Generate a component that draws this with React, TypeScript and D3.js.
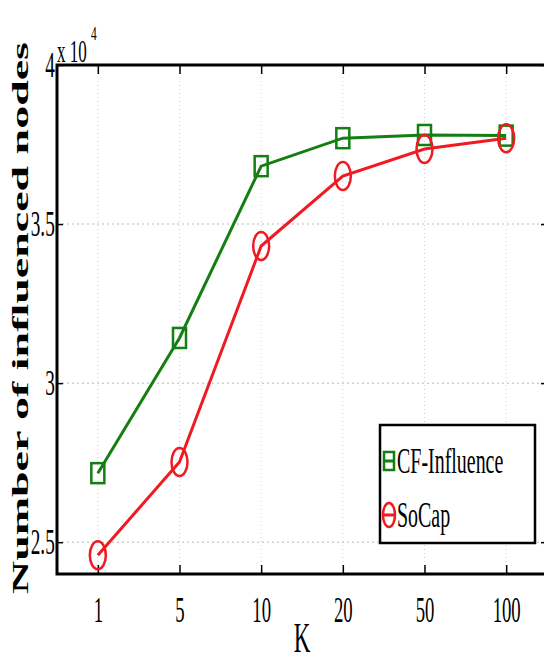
import React, { useEffect, useRef } from "react";
import * as d3 from "d3";

// values (units of 10^4)
const kLabels = ["1", "5", "10", "20", "50", "100"];
const cfInfluence = [2.717, 3.142, 3.682, 3.77, 3.78, 3.778];
const soCap = [2.459, 2.752, 3.431, 3.651, 3.736, 3.77];
const yTicks = [2.5, 3, 3.5, 4];
const seriesNames = ["CF-Influence", "SoCap"];

const W = 544,
  H = 661;
const FONT = "'Liberation Serif', 'Times New Roman', serif";

export default function App() {
  const svgRef = useRef<SVGSVGElement>(null);

  useEffect(() => {
    const svg = d3.select(svgRef.current);
    svg.selectAll("*").remove();

    const left = 57,
      right = 547,
      top = 65,
      bottom = 574;

    const x = d3.scalePoint<string>().domain(kLabels).range([left, right]).padding(0.5);
    const y = d3.scaleLinear().domain([2.4, 4]).range([bottom, top]);

    // grid
    const grid = svg.append("g");
    kLabels.forEach((k) => {
      grid
        .append("line")
        .attr("x1", x(k)!)
        .attr("x2", x(k)!)
        .attr("y1", top)
        .attr("y2", bottom)
        .attr("stroke", "#cfcfcf")
        .attr("stroke-width", 1)
        .attr("stroke-dasharray", "1,3");
    });
    yTicks.forEach((t) => {
      grid
        .append("line")
        .attr("x1", left)
        .attr("x2", right)
        .attr("y1", y(t))
        .attr("y2", y(t))
        .attr("stroke", "#cfcfcf")
        .attr("stroke-width", 1.5)
        .attr("stroke-dasharray", "2,3");
    });

    // axes
    const xAxis = svg
      .append("g")
      .attr("transform", `translate(0,${bottom})`)
      .call(d3.axisBottom(x).tickSize(-9).tickSizeOuter(0));
    xAxis.select(".domain").remove();
    xAxis.selectAll("line").attr("stroke", "#000").attr("stroke-width", 1.5);
    xAxis
      .selectAll("text")
      .attr("fill", "#000")
      .attr("font-family", FONT)
      .attr("font-size", 36)
      .attr("dy", null)
      .attr("y", 48)
      .attr("transform", "scale(0.52,1)");

    const xTop = svg
      .append("g")
      .attr("transform", `translate(0,${top})`)
      .call(d3.axisTop(x).tickSize(-9).tickSizeOuter(0).tickFormat(() => ""));
    xTop.select(".domain").remove();
    xTop.selectAll("line").attr("stroke", "#000").attr("stroke-width", 1.5);

    const yAxis = svg
      .append("g")
      .attr("transform", `translate(${left},0)`)
      .call(
        d3
          .axisLeft(y)
          .tickValues(yTicks)
          .tickSize(-6)
          .tickSizeOuter(0)
          .tickFormat((d) => String(d))
      );
    yAxis.select(".domain").remove();
    yAxis.selectAll("line").attr("stroke", "#000").attr("stroke-width", 1.5);
    yAxis
      .selectAll("text")
      .attr("fill", "#000")
      .attr("font-family", FONT)
      .attr("font-size", 35)
      .attr("text-anchor", "end")
      .attr("x", -4)
      .attr("dy", "0.33em")
      .attr("transform", "scale(0.55,1)");

    const yRight = svg
      .append("g")
      .attr("transform", `translate(${right},0)`)
      .call(d3.axisRight(y).tickValues(yTicks).tickSize(-6).tickSizeOuter(0).tickFormat(() => ""));
    yRight.select(".domain").remove();
    yRight.selectAll("line").attr("stroke", "#000").attr("stroke-width", 1.5);

    // frame
    svg
      .append("rect")
      .attr("x", left)
      .attr("y", top)
      .attr("width", right - left)
      .attr("height", bottom - top)
      .attr("fill", "none")
      .attr("stroke", "#000")
      .attr("stroke-width", 3);

    // exponent
    svg
      .append("text")
      .attr("transform", `translate(${left},62) scale(0.55,1)`)
      .attr("font-family", FONT)
      .attr("font-size", 31)
      .text("x 10");
    svg
      .append("text")
      .attr("transform", `translate(91,40) scale(0.6,1)`)
      .attr("font-family", FONT)
      .attr("font-size", 19)
      .text("4");

    // lines + markers
    const line = d3
      .line<number>()
      .x((_, i) => x(kLabels[i])!)
      .y((d) => y(d));

    const green = "#137f13";
    const red = "#f01a22";

    svg
      .append("path")
      .datum(cfInfluence)
      .attr("d", line)
      .attr("fill", "none")
      .attr("stroke", green)
      .attr("stroke-width", 3);
    svg
      .selectAll(".sq")
      .data(cfInfluence)
      .enter()
      .append("rect")
      .attr("class", "sq")
      .attr("x", (_, i) => x(kLabels[i])! - 6.5)
      .attr("y", (d) => y(d) - 10)
      .attr("width", 13)
      .attr("height", 20)
      .attr("fill", "none")
      .attr("stroke", green)
      .attr("stroke-width", 2.5);

    svg
      .append("path")
      .datum(soCap)
      .attr("d", line)
      .attr("fill", "none")
      .attr("stroke", red)
      .attr("stroke-width", 3);
    svg
      .selectAll(".ci")
      .data(soCap)
      .enter()
      .append("ellipse")
      .attr("class", "ci")
      .attr("cx", (_, i) => x(kLabels[i])!)
      .attr("cy", (d) => y(d))
      .attr("rx", 8)
      .attr("ry", 14)
      .attr("fill", "none")
      .attr("stroke", red)
      .attr("stroke-width", 2.5);

    // legend
    const lg = svg.append("g");
    lg.append("rect")
      .attr("x", 380)
      .attr("y", 425)
      .attr("width", 155)
      .attr("height", 118)
      .attr("fill", "#fff")
      .attr("stroke", "#000")
      .attr("stroke-width", 2.5);
    const rows = [
      { name: seriesNames[0], cy: 461, color: green, len: 108 },
      { name: seriesNames[1], cy: 515, color: red, len: 55 },
    ];
    rows.forEach((r, i) => {
      lg.append("line")
        .attr("x1", 384)
        .attr("x2", 395)
        .attr("y1", r.cy)
        .attr("y2", r.cy)
        .attr("stroke", r.color)
        .attr("stroke-width", 3);
      if (i === 0) {
        lg.append("rect")
          .attr("x", 384)
          .attr("y", r.cy - 9)
          .attr("width", 10)
          .attr("height", 18)
          .attr("fill", "none")
          .attr("stroke", r.color)
          .attr("stroke-width", 2.5);
      } else {
        lg.append("ellipse")
          .attr("cx", 389)
          .attr("cy", r.cy)
          .attr("rx", 6)
          .attr("ry", 12)
          .attr("fill", "none")
          .attr("stroke", r.color)
          .attr("stroke-width", 2.5);
      }
      lg.append("text")
        .attr("transform", `translate(397,${r.cy + 12}) scale(0.57,1)`)
        .attr("font-family", FONT)
        .attr("font-size", 35)
        .text(r.name);
    });

    // axis titles
    svg
      .append("text")
      .attr("transform", `translate(${(left + right) / 2},652) scale(0.55,1)`)
      .attr("text-anchor", "middle")
      .attr("font-family", FONT)
      .attr("font-size", 42)
      .text("K");

    svg
      .append("text")
      .attr("transform", "translate(28,318) rotate(-90)")
      .attr("text-anchor", "middle")
      .attr("font-family", FONT)
      .attr("font-weight", "bold")
      .attr("font-size", 24)
      .attr("textLength", 552)
      .attr("lengthAdjust", "spacingAndGlyphs")
      .text("Number of influenced nodes");
  }, []);

  return (
    <svg
      ref={svgRef}
      width={W}
      height={H}
      style={{ position: "absolute", left: 0, top: 0, background: "#fff" }}
    />
  );
}
